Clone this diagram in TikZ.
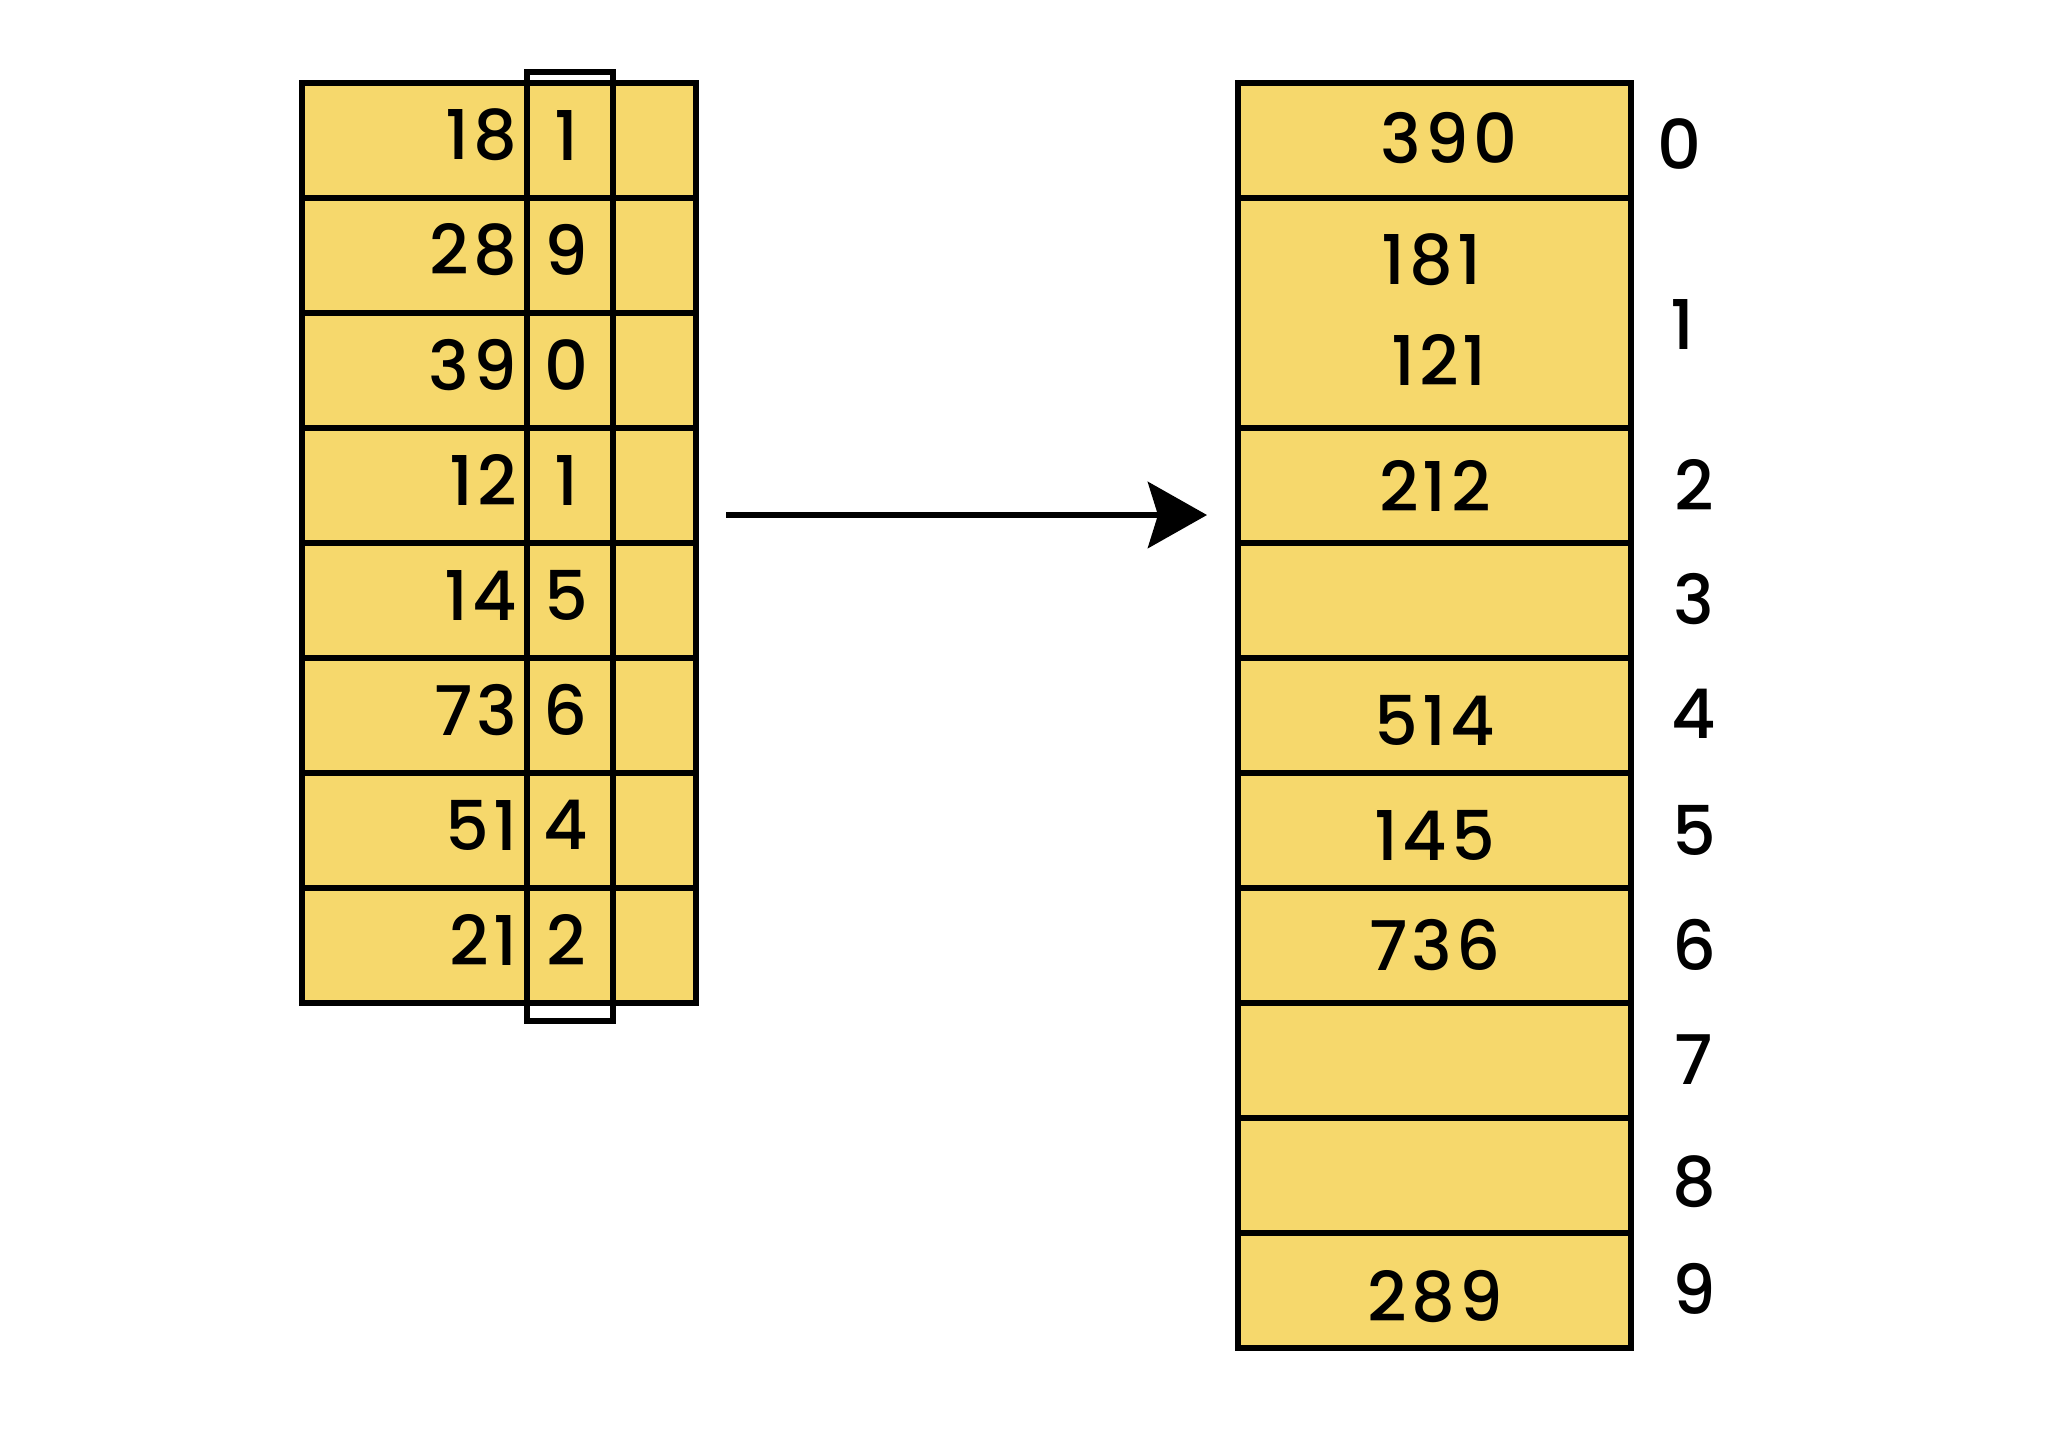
\documentclass[tikz,border=0pt]{standalone}
\usepackage{fontspec}
\setmainfont{Poppins}[UprightFont={* Medium}, LetterSpace=6]
\usetikzlibrary{arrows.meta}
\definecolor{cellyellow}{RGB}{246,216,108}
\begin{document}
\begin{tikzpicture}[x=0.01cm,y=-0.01cm,
  cell/.style={draw=black, fill=cellyellow, line width=1.7pt, minimum width=3.94cm,
    minimum height=1.15cm, inner sep=0pt, outer sep=0pt, anchor=north west},
  rcell/.style={cell, minimum width=3.93cm},
  num/.style={inner sep=0pt, font=\fontsize{19.5}{24}\selectfont},
  hlbox/.style={draw=black, line width=1.7pt, minimum width=0.86cm, minimum height=9.48cm,
    inner sep=0pt, outer sep=0pt, anchor=north west},
  arr/.style={line width=1.9pt, -{Stealth[length=0.59cm, width=0.66cm, inset=0.1cm]}}
]
\useasboundingbox (0,0) rectangle (2048,1447);
% left table
\foreach \i in {0,...,7}{
  \node[cell] (L\i) at (302,{83+115*\i}) {};
}
\node[hlbox] (hl) at (527,72) {};
\foreach \a/\b [count=\i from 0] in {18/1,28/9,39/0,12/1,14/5,73/6,51/4,21/2}{
  \node[num, anchor=east] (La\i) at (518,{135+115*\i}) {\a};
  \node[num] (Lb\i) at (566,{135+115*\i}) {\b};
}
% right table
\node[rcell] (R0) at (1238,83) {};
\node[rcell, minimum height=2.30cm] (R1) at (1238,198) {};
\foreach \i in {2,...,9}{
  \node[rcell] (R\i) at (1238,{428+115*(\i-2)}) {};
}
\node[num] (v390) at (1449,138) {390};
\node[num] (v181) at (1431,260) {181};
\node[num] (v121) at (1439,360) {121};
\node[num] (v212) at (1435,486) {212};
\node[num] (v514) at (1435,720) {514};
\node[num] (v145) at (1435,835) {145};
\node[num] (v736) at (1435,945) {736};
\node[num] (v289) at (1435,1297) {289};
% indices
\node[num] (i0) at (1679,144) {0};
\node[num] (i1) at (1682,324) {1};
\foreach \i/\y in {2/485,3/599,4/714,5/830,6/945,7/1060,8/1182,9/1289}{
  \node[num] (i\i) at (1694,\y) {\i};
}
% arrow
\coordinate (a0) at (726,515);
\coordinate (a1) at (1207,515);
\draw[arr] (a0) -- (a1);
\end{tikzpicture}
\end{document}
